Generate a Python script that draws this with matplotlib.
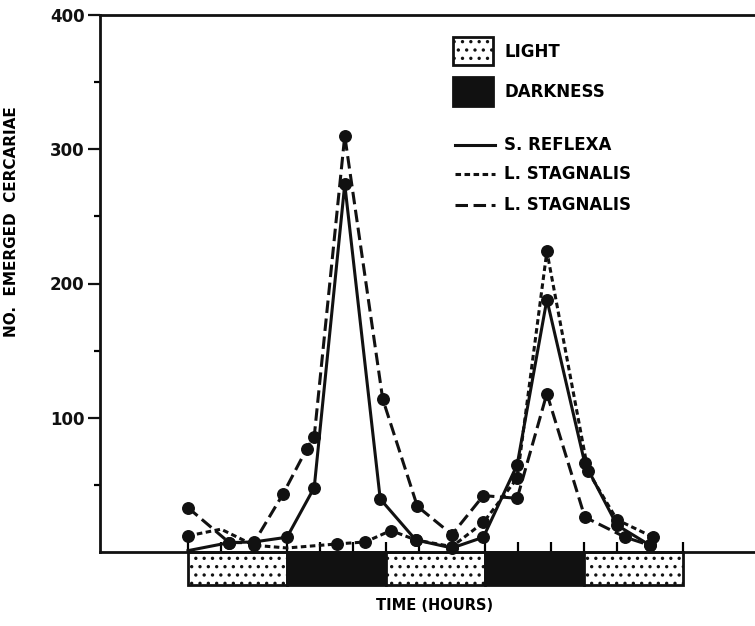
import numpy as np
import matplotlib.pyplot as plt
from matplotlib.patches import Rectangle
from matplotlib.lines import Line2D

plt.rcParams['font.family'] = ['DejaVu Sans']
plt.rcParams['font.weight'] = 'bold'
plt.rcParams['lines.scale_dashes'] = False
plt.rcParams['hatch.linewidth'] = 1.2

# ------------------- datos -------------------
# horas de muestreo y numero de cercarias
refl_t = [0, 5, 8, 12, 15.3, 19, 23.3, 27.6, 32, 35.8, 39.9, 43.5, 48.1, 52, 56]
refl_v = [1, 7, 7.5, 11, 48, 274, 39.5, 9, 3, 11, 65, 188, 66, 20, 5]

stag1_t = [0, 4, 8, 12, 18.1, 21.5, 24.6, 27.6, 32, 35.8, 39.9, 43.5, 48.5, 52, 56.4]
stag1_v = [12, 17, 5, 3, 6, 7.5, 16, 9, 4, 22, 55, 224, 60, 24, 11]

stag2_t = [0, 5, 8, 11.5, 14.4, 15.3, 19, 23.6, 27.8, 32, 35.8, 39.9, 43.5, 48.1, 53, 56]
stag2_v = [33, 7, 7, 43, 77, 86, 310, 114, 34, 13, 42, 40, 118, 26, 11, 5]

# fases de luz / oscuridad (inicio en horas, duracion 12 h)
fases_inicio = [0, 12, 24, 36, 48]
fases_tipo = ['L', 'D', 'L', 'D', 'L']
fase_dur = 12

# ------------------- figura -------------------
fig = plt.figure(figsize=(7.55, 6.26), dpi=100)
ax = fig.add_axes([100/755, 74/626, 655/755, 537/626])

x0 = (100 - 188) / 8.25
x1 = (755 - 188) / 8.25
ax.set_xlim(x0, x1)
ax.set_ylim(0, 400)

lw = 2.2
ms = 8.3
corto = (0, (4, 2.5))
largo = (0, (9, 4))
ax.plot(refl_t, refl_v, color='#111111', lw=lw, marker='o', ms=ms,
        markevery=list(range(1, len(refl_t))), clip_on=False, zorder=3)
ax.plot(stag1_t, stag1_v, color='#111111', lw=lw, ls=corto, marker='o', ms=ms,
        markevery=[0, 2, 4, 5, 6, 7, 8, 9, 10, 11, 12, 13, 14], clip_on=False, zorder=3)
ax.plot(stag2_t, stag2_v, color='#111111', lw=lw, ls=largo, marker='o', ms=ms,
        clip_on=False, zorder=3)

# barra de fases bajo el eje
bar_h = 33 / 537
tr = ax.get_xaxis_transform()
for ini, tipo in zip(fases_inicio, fases_tipo):
    if tipo == 'L':
        r = Rectangle((ini, -bar_h), fase_dur, bar_h, transform=tr, clip_on=False,
                      facecolor='white', edgecolor='#111111', hatch='..', lw=2)
    else:
        r = Rectangle((ini, -bar_h), fase_dur, bar_h, transform=tr, clip_on=False,
                      facecolor='#111111', edgecolor='#111111', lw=2)
    ax.add_patch(r)

# ejes
for s in ['left', 'bottom', 'top']:
    ax.spines[s].set_linewidth(2)
    ax.spines[s].set_color('#111111')
ax.spines['right'].set_visible(False)

ax.set_yticks([100, 200, 300, 400])
ax.set_yticks([50, 150, 250, 350], minor=True)
ax.tick_params(axis='y', which='major', length=9, width=1.6, labelsize=12, pad=2, colors='#111111')
ax.tick_params(axis='y', which='minor', length=4, width=1.6)
ax.set_xticks(np.arange(0, 61, 4))
ax.tick_params(axis='x', which='major', direction='in', length=7, width=1.6,
               labelbottom=False)

ax.set_ylabel('NO.  EMERGED  CERCARIAE', fontsize=11, fontweight='bold', labelpad=10)
ax.yaxis.set_label_coords((19 - 100) / 655, (552 - 222) / 537)
fig.text(435/755, 1 - 605/626, 'TIME (HOURS)', ha='center', va='center',
         fontsize=10.5, fontweight='bold')

# leyenda hecha a mano
def fx(px):
    return (px - 100) / 655

def fy(py):
    return (552 - py) / 537

ax.add_patch(Rectangle((fx(453), fy(65)), 40/655, 28/537, transform=ax.transAxes,
                       facecolor='white', edgecolor='#111111', hatch='..', lw=2))
ax.add_patch(Rectangle((fx(453), fy(106)), 40/655, 29/537, transform=ax.transAxes,
                       facecolor='#111111', edgecolor='#111111', lw=2))
ax.text(fx(505), fy(52), 'LIGHT', transform=ax.transAxes, va='center', fontsize=12)
ax.text(fx(505), fy(92), 'DARKNESS', transform=ax.transAxes, va='center', fontsize=12)

estilos = ['-', corto, largo]
nombres = ['S. REFLEXA', 'L. STAGNALIS', 'L. STAGNALIS']
ys = [145, 174, 205]
for est, nom, yy in zip(estilos, nombres, ys):
    ax.add_line(Line2D([fx(455), fx(495)], [fy(yy), fy(yy)], transform=ax.transAxes,
                       color='#111111', lw=2.2, ls=est))
    ax.text(fx(504), fy(yy), nom, transform=ax.transAxes, va='center', fontsize=12)

fig.savefig('out.png', dpi=100)
